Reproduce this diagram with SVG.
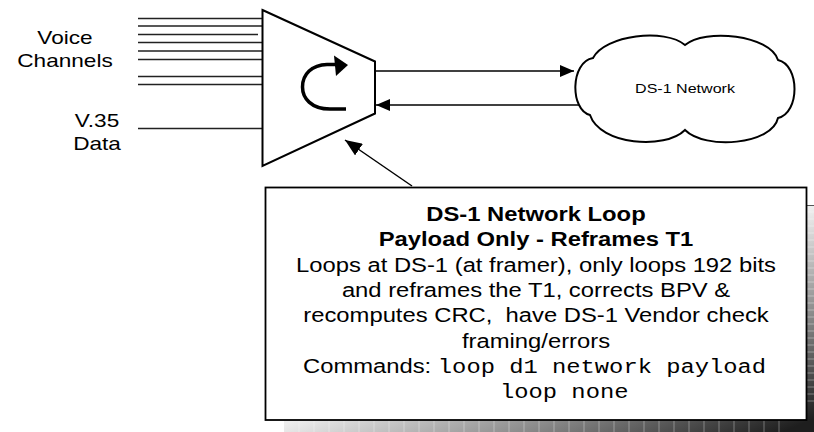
<svg xmlns="http://www.w3.org/2000/svg" width="814" height="432" viewBox="0 0 814 432">
<style>
.sans{font-family:"Liberation Sans",Arial,sans-serif;fill:#000}
.mono{font-family:"Liberation Mono","Courier New",monospace}
.ln{stroke:#222;stroke-width:1.5;fill:none}
.shape{stroke:#000;stroke-width:2;fill:#fff}
.conn{stroke:#000;stroke-width:1.5;fill:none}
</style>
<defs>
<marker id="ah" markerUnits="userSpaceOnUse" markerWidth="14" markerHeight="12" refX="14" refY="6" orient="auto">
<path d="M0,0 L14,6 L0,12 z" fill="#000"/>
</marker>
<marker id="ahb" markerUnits="userSpaceOnUse" markerWidth="17" markerHeight="14" refX="17" refY="7" orient="auto">
<path d="M0,0 L17,7 L0,14 z" fill="#000"/>
</marker>
<linearGradient id="shade" gradientUnits="userSpaceOnUse" x1="283" y1="425" x2="357" y2="606">
<stop offset="0" stop-color="#eeeeee"/>
<stop offset="0.5" stop-color="#8a8a8a"/>
<stop offset="1" stop-color="#1e1e1e"/>
</linearGradient>
</defs>
<rect width="814" height="432" fill="#fff"/>
<g id="shadow">
<rect x="284" y="205" width="540" height="240" fill="url(#shade)"/>
<g stroke="#fff" stroke-opacity="0.35" stroke-width="1">
<path d="M299,420V432M314,420V432M329,420V432M344,420V432M359,420V432M374,420V432M389,420V432M404,420V432M419,420V432M434,420V432M449,420V432M464,420V432M479,420V432M494,420V432M509,420V432M524,420V432M539,420V432M554,420V432M569,420V432M584,420V432M599,420V432M614,420V432M629,420V432M644,420V432M659,420V432M674,420V432M689,420V432M704,420V432M719,420V432M734,420V432M749,420V432M764,420V432M779,420V432"/>
<path d="M807,212H814M807,219H814M807,226H814M807,233H814M807,240H814M807,247H814M807,254H814M807,261H814M807,268H814M807,275H814M807,282H814M807,289H814M807,296H814M807,303H814M807,310H814M807,317H814M807,324H814M807,331H814M807,338H814M807,345H814M807,352H814M807,359H814M807,366H814M807,373H814M807,380H814M807,387H814M807,394H814M807,401H814"/>
</g>
<path d="M807,205.5H814" stroke="#555" stroke-width="1"/>
</g>
<g id="labels" class="sans" font-size="19" text-anchor="middle">
<text transform="translate(65,44) scale(1.19,1)">Voice</text>
<text transform="translate(65,67) scale(1.19,1)">Channels</text>
<text transform="translate(97,127) scale(1.19,1)">V.35</text>
<text transform="translate(97,150) scale(1.19,1)">Data</text>
</g>
<g id="input-lines" class="ln">
<path d="M138,18.5H262M138,26H262M138,34.5H258M138,42.5H262M138,51H262M138,59.5H262M138,76.5H262M138,84.5H262"/>
<path d="M138,128.5H262"/>
</g>
<g id="connectors">
<line class="conn" x1="375" y1="71" x2="574" y2="71" marker-end="url(#ah)"/>
<line class="conn" x1="580" y1="105" x2="376" y2="105" marker-end="url(#ah)"/>
<line class="conn" x1="412" y1="186" x2="345" y2="140" marker-end="url(#ahb)"/>
</g>
<g id="mux">
<polygon class="shape" points="262.5,10 375,61.5 375,113.5 262.5,166"/>
<path d="M346,109 L330,109 C311,109 302.5,98 302.5,87 C302.5,74 312,65 327,64.5 L337,64.5" fill="none" stroke="#000" stroke-width="3.5"/>
<polygon points="334,55.5 348,65 336,76" fill="#000"/>
</g>
<g id="cloud">
<path class="shape" stroke-width="1.8" d="M593,58 C605,35 665,28 685,45 C705,28 770,35 778,60 C800,65 800,113 778,118 C772,145 705,150 685,130 C665,150 600,145 590,115 C570,110 570,62 593,58 Z"/>
<text class="sans" font-size="13.5" text-anchor="middle" transform="translate(685,93) scale(1.19,1)">DS-1 Network</text>
</g>
<g id="note">
<rect x="265.5" y="187.5" width="541" height="232.5" fill="#fff" stroke="#000" stroke-width="1.8"/>
<g class="sans" font-size="20" text-anchor="middle">
<text font-weight="bold" transform="translate(536,221) scale(1.19,1)">DS-1 Network Loop</text>
<text font-weight="bold" transform="translate(536,246.3) scale(1.19,1)">Payload Only - Reframes T1</text>
<text transform="translate(536,271.6) scale(1.19,1)">Loops at DS-1 (at framer), only loops 192 bits</text>
<text transform="translate(536,296.9) scale(1.19,1)">and reframes the T1, corrects BPV &amp;</text>
<text transform="translate(536,322.2) scale(1.19,1)" xml:space="preserve">recomputes CRC,  have DS-1 Vendor check</text>
<text transform="translate(536,347.5) scale(1.19,1)">framing/errors</text>
</g>
<text class="sans" font-size="20" transform="translate(303,372.8) scale(1.19,1)" xml:space="preserve">Commands: <tspan class="mono">loop d1 network payload</tspan></text>
<text class="sans mono" font-size="20" transform="translate(500,398.1) scale(1.19,1)">loop none</text>
</g>
</svg>
